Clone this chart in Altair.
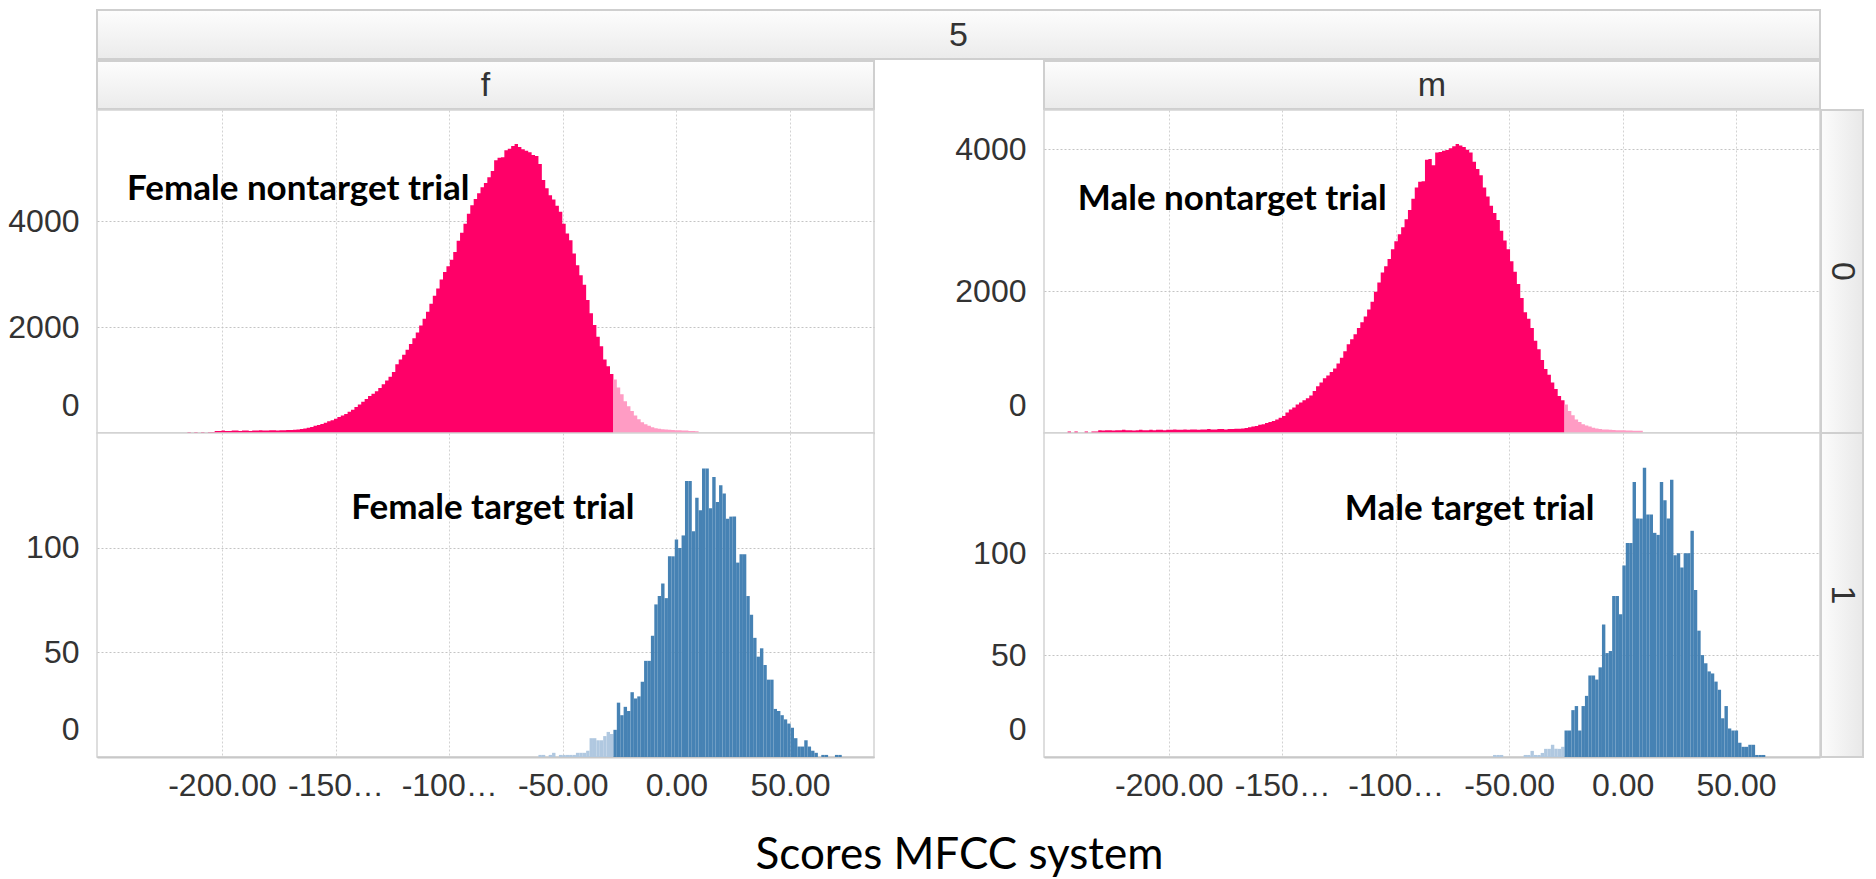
import altair as alt
import pandas as pd

# ---------------- data ----------------
BIN_WIDTH = 1.5
F_THRESHOLD = -27.7
M_THRESHOLD = -25.6

female_nontarget_below = (
    [20, 0, 20, 0, 20, 0, 20, 20]
    + [40, 40, 45, 40, 40, 45, 45, 40, 45, 45, 40, 45, 45, 50, 45, 45, 50, 50, 45, 50, 50, 55, 55]
    + [60, 65, 75, 85, 100, 115, 135, 150, 170, 195]
    + [220, 240, 270, 300, 330, 360, 400, 440, 490, 540,
       590, 640, 700, 740, 790, 850, 920, 990, 1060, 1150,
       1300, 1390, 1480, 1570, 1680, 1790, 1900, 2030, 2160, 2290,
       2440, 2590, 2730, 2900, 3040, 3150, 3270, 3420, 3630, 3780,
       3950, 4140, 4300, 4420, 4530, 4640, 4720, 4830, 4950, 5150,
       5200, 5210, 5340, 5370, 5420, 5460, 5400, 5360, 5330, 5300,
       5250, 5230, 5080, 4780, 4620, 4490, 4410, 4290, 4180, 3950,
       3770, 3640, 3390, 3170, 2980, 2800, 2510, 2260, 2040, 1820,
       1640, 1390, 1260, 1115]
)
female_nontarget_above = [1010, 860, 730, 600, 505, 415, 330, 260, 205, 165,
                          135, 110, 90, 80, 70, 65, 60, 55, 50, 50,
                          45, 45, 40, 40, 35]

male_nontarget_below = (
    [20, 0, 20, 0, 0, 20, 0, 20, 20]
    + [40, 35, 40, 40, 35, 40, 40, 45, 40, 40,
       35, 40, 45, 40, 40, 45, 40, 45, 45, 40,
       45, 45, 50, 45, 45, 50, 45, 50, 50, 45,
       50, 50, 55, 50, 50, 55, 55, 50, 55, 55,
       60]
    + [60, 65, 70, 80, 90, 100, 115, 125, 140, 155, 170, 190, 215]
    + [240, 290, 330, 360, 400, 430, 460, 490, 530, 590,
       660, 710, 770, 810, 860, 910, 980, 1060, 1150, 1250,
       1320, 1390, 1480, 1560, 1640, 1740, 1850, 1990, 2120, 2260,
       2350, 2450, 2590, 2700, 2800, 2900, 3010, 3140, 3300, 3460,
       3540, 3545, 3850, 3860, 3770, 3950, 3960, 3975, 3985, 4010,
       4040, 4070, 4050, 4030, 3990, 3950, 3820, 3720, 3630, 3460,
       3330, 3200, 3100, 3000, 2850, 2710, 2590, 2420, 2270, 2100,
       1900, 1700, 1610, 1480, 1300, 1180, 1030, 900, 820, 710,
       620, 520, 460]
)
male_nontarget_above = [400, 310, 250, 190, 155, 125, 105, 90, 75, 62,
                        55, 50, 48, 45, 42, 40, 40, 38, 36, 35,
                        33, 32, 30]

female_target_below = [1, 1, 0, 1, 2, 0, 1, 1, 1, 1, 1, 2, 2, 2, 3, 9, 9, 8, 8, 10, 12, 11]
female_target_above = [13, 26, 20, 24, 22, 31, 28, 29, 36, 46,
                       46, 58, 73, 77, 83, 76, 96, 96, 104, 100,
                       106, 132, 132, 108, 124, 118, 138, 138, 119, 134,
                       122, 130, 126, 114, 115, 115, 93, 97, 97, 77,
                       68, 57, 48, 52, 44, 37, 37, 23, 22, 20,
                       18, 16, 14, 9, 5, 5, 8, 5, 3, 2,
                       0, 1, 1, 0, 0, 1, 1]

male_target_below = [1, 1, 1, 0, 0, 0, 0, 0, 0, 1, 1, 3, 1, 1, 2, 4, 4, 6, 4, 4, 5]
male_target_above = [13, 13, 23, 25, 13, 25, 30, 40, 40, 38,
                     44, 65, 51, 52, 79, 79, 70, 94, 105, 105,
                     135, 117, 117, 142, 119, 119, 110, 109, 135, 126,
                     117, 136, 99, 100, 93, 100, 100, 111, 82, 62,
                     50, 46, 42, 41, 37, 33, 19, 25, 14, 13,
                     13, 7, 5, 5, 6, 6, 1, 1, 1]

SHADES = ["nontarget_rejected", "nontarget_accepted", "target_rejected", "target_accepted"]
SHADE_COLORS = ["#ff0068", "#ff9cc4", "#b0c8e0", "#4682b4"]

X_DOMAIN = [-255, 87]
X_TICKS = [-200, -150, -100, -50, 0, 50]
X_TICK_LABELS = ["-200.00", "-150\u2026", "-100\u2026", "-50.00", "0.00", "50.00"]
Y_TICKS_NONTARGET = [0, 2000, 4000]
Y_TICKS_TARGET = [0, 50, 100]
Y_MAX = {"f0": 6100, "m0": 4550, "f1": 155, "m1": 159}

ANN_LABELS = ["Female nontarget trial", "Male nontarget trial", "Female target trial", "Male target trial"]
ANN_X = [-241.8, -240.1, -143.1, -122.4]
ANN_Y = [4606, 3297, 118.9, 121.9]

TOP_HEADER = "5"
COL_HEADERS = ["f", "m"]
ROW_HEADERS = ["0", "1"]
X_TITLE = "Scores MFCC system"

AXIS_FONT = "Liberation Sans, Arial, sans-serif"
TEXT_COLOR = "#333333"

# ---------------- helpers ----------------
def bar_table(threshold, below, above, cat_below, cat_above):
    rows = []
    n = len(below)
    for i, c in enumerate(below):
        s = threshold - (n - i) * BIN_WIDTH
        rows.append(dict(start=s, end=s + BIN_WIDTH, count=c, zero=0, shade=cat_below))
    for i, c in enumerate(above):
        s = threshold + i * BIN_WIDTH
        rows.append(dict(start=s, end=s + BIN_WIDTH, count=c, zero=0, shade=cat_above))
    df = pd.DataFrame(rows)
    return df[df["count"] > 0]


def step_table(threshold, below, above, cat_below, cat_above):
    """Histogram outline as step points (bin start + closing edge) per colour group."""
    rows = []
    n = len(below)
    for i, c in enumerate(below):
        rows.append(dict(start=threshold - (n - i) * BIN_WIDTH, count=c, shade=cat_below))
    rows.append(dict(start=threshold, count=below[-1], shade=cat_below))
    for i, c in enumerate(above):
        rows.append(dict(start=threshold + i * BIN_WIDTH, count=c, shade=cat_above))
    rows.append(dict(start=threshold + len(above) * BIN_WIDTH, count=above[-1], shade=cat_above))
    return pd.DataFrame(rows)


label_expr = "''"
for v, lab in reversed(list(zip(X_TICKS, X_TICK_LABELS))):
    label_expr = f"datum.value === {v} ? '{lab}' : ({label_expr})"

color_scale = alt.Scale(domain=SHADES, range=SHADE_COLORS)

W_LEFT, W_GAP, W_RIGHT, W_STRIP = 777, 170, 776, 43
H_HDR, H_ROW0, H_ROW1 = 50, 323, 324


def panel(df, kind, ann_i, ymax, yticks, bottom, width, height):
    xs = alt.Scale(domain=X_DOMAIN, nice=False, zero=False)
    ys = alt.Scale(domain=[0, ymax], nice=False, zero=True)
    x_axis = alt.Axis(values=X_TICKS, labelExpr=label_expr, labels=bottom, ticks=False,
                      domain=True, domainColor="#c8c8c8", domainWidth=2,
                      grid=True, gridColor="#d2d2d2", gridDash=[2, 2], gridWidth=1,
                      title=None, labelFont=AXIS_FONT, labelFontSize=32,
                      labelColor=TEXT_COLOR, labelPadding=13, labelFlush=False,
                      labelOverlap=False)
    y_axis = alt.Axis(values=yticks, format="d", ticks=False, domain=False, grid=True,
                      gridColor="#c4c4c4", gridDash=[2, 2], gridWidth=1, title=None,
                      labelFont=AXIS_FONT, labelFontSize=32, labelColor=TEXT_COLOR,
                      labelPadding=18, labelOverlap=False,
                      labelOffset={"condition": {"test": "datum.value === 0", "value": -28}, "value": 0})
    if kind == "area":
        hist = alt.Chart(df).mark_area(interpolate="step-after").encode(
            x=alt.X("start:Q", scale=xs, axis=x_axis),
            y=alt.Y("count:Q", scale=ys, axis=y_axis, stack=False),
            color=alt.Color("shade:N", scale=color_scale, legend=None),
        )
    else:
        hist = alt.Chart(df).mark_rect().encode(
            x=alt.X("start:Q", scale=xs, axis=x_axis),
            x2="end:Q",
            y=alt.Y("count:Q", scale=ys, axis=y_axis),
            y2="zero:Q",
            color=alt.Color("shade:N", scale=color_scale, legend=None),
        )
    ann_df = pd.DataFrame({"start": [ANN_X[ann_i]], "count": [ANN_Y[ann_i]], "label": [ANN_LABELS[ann_i]]})
    text = alt.Chart(ann_df).mark_text(align="left", baseline="middle", font="Lato",
                                       fontWeight="bold", fontSize=35, color="black").encode(
        x=alt.X("start:Q", scale=xs, axis=x_axis),
        y=alt.Y("count:Q", scale=ys, axis=y_axis),
        text="label:N",
    )
    return alt.layer(hist, text).properties(
        width=width, height=height,
        view=alt.ViewBackground(stroke="#d3d3d3", strokeWidth=1.5, fill="white"))


def empty(w, h):
    return alt.Chart(pd.DataFrame({"v": [0]})).mark_point(opacity=0, size=1).encode(
        x=alt.value(w / 2), y=alt.value(h / 2)
    ).properties(width=w, height=h, view=alt.ViewBackground(stroke="transparent"))


HEADER_FILL = alt.LinearGradient(gradient="linear",
                                 stops=[alt.GradientStop(offset=0, color="#fdfdfd"),
                                        alt.GradientStop(offset=1, color="#ebebeb")],
                                 x1=0, x2=0, y1=0, y2=1)
ROW_FILL = alt.LinearGradient(gradient="linear",
                              stops=[alt.GradientStop(offset=0, color="#fcfcfc"),
                                     alt.GradientStop(offset=1, color="#e8e8e8")],
                              x1=0, x2=1, y1=0, y2=0)


def col_header(label, w, h, box_w, y0, y1, extra_left=False):
    df = pd.DataFrame({"label": [label]})
    box = alt.Chart(df).mark_rect(fill=HEADER_FILL, stroke="#cfcfcf", strokeWidth=2).encode(
        x=alt.value(0), x2=alt.value(box_w), y=alt.value(y0), y2=alt.value(y1))
    txt = alt.Chart(df).mark_text(font=AXIS_FONT, fontSize=34, color=TEXT_COLOR,
                                  align="center", baseline="middle").encode(
        x=alt.value(box_w / 2), y=alt.value((y0 + y1) / 2 + 1), text="label:N")
    layers = [box, txt]
    if extra_left:
        pad = alt.Chart(df).mark_rect(opacity=0).encode(
            x=alt.value(-96), x2=alt.value(0), y=alt.value(2), y2=alt.value(3))
        layers.append(pad)
    return alt.layer(*layers).properties(width=w, height=h,
                                         view=alt.ViewBackground(stroke="transparent"))


def row_header(label, h):
    df = pd.DataFrame({"label": [label]})
    box = alt.Chart(df).mark_rect(fill=ROW_FILL, stroke="#cfcfcf", strokeWidth=2).encode(
        x=alt.value(1), x2=alt.value(W_STRIP), y=alt.value(0), y2=alt.value(h))
    txt = alt.Chart(df).mark_text(font=AXIS_FONT, fontSize=34, color=TEXT_COLOR, angle=90,
                                  align="center", baseline="middle").encode(
        x=alt.value((W_STRIP + 1) / 2), y=alt.value(h / 2), text="label:N")
    return alt.layer(box, txt).properties(width=W_STRIP, height=h,
                                          view=alt.ViewBackground(stroke="transparent"))


title_cell = alt.Chart(pd.DataFrame({"v": [0.5]})).mark_point(opacity=0, size=1).encode(
    x=alt.X("v:Q", scale=alt.Scale(domain=[0, 1]),
            axis=alt.Axis(title=X_TITLE, labels=False, ticks=False, domain=False, grid=False,
                          titleFont="Lato", titleFontSize=44, titleFontWeight="normal",
                          titleColor="#000000", titlePadding=76, titleLimit=1000)),
    y=alt.value(H_ROW1 / 2),
).properties(width=W_GAP, height=H_ROW1, view=alt.ViewBackground(stroke="transparent"))

# ---------------- panels ----------------
df_f0 = step_table(F_THRESHOLD, female_nontarget_below, female_nontarget_above, SHADES[0], SHADES[1])
df_m0 = step_table(M_THRESHOLD, male_nontarget_below, male_nontarget_above, SHADES[0], SHADES[1])
df_f1 = bar_table(F_THRESHOLD, female_target_below, female_target_above, SHADES[2], SHADES[3])
df_m1 = bar_table(M_THRESHOLD, male_target_below, male_target_above, SHADES[2], SHADES[3])

p_f0 = panel(df_f0, "area", 0, Y_MAX["f0"], Y_TICKS_NONTARGET, False, W_LEFT, H_ROW0)
p_m0 = panel(df_m0, "area", 1, Y_MAX["m0"], Y_TICKS_NONTARGET, False, W_RIGHT, H_ROW0)
p_f1 = panel(df_f1, "rect", 2, Y_MAX["f1"], Y_TICKS_TARGET, True, W_LEFT, H_ROW1)
p_m1 = panel(df_m1, "rect", 3, Y_MAX["m1"], Y_TICKS_TARGET, True, W_RIGHT, H_ROW1)

top_hdr = col_header(TOP_HEADER, W_LEFT, H_HDR, W_LEFT + W_GAP + W_RIGHT, 0, 49, extra_left=True)
f_hdr = col_header(COL_HEADERS[0], W_LEFT, H_HDR, W_LEFT, 1, 49)
m_hdr = col_header(COL_HEADERS[1], W_RIGHT, H_HDR, W_RIGHT, 1, 49)

cells = [
    top_hdr, empty(W_GAP, H_HDR), empty(W_RIGHT, H_HDR), empty(W_STRIP, H_HDR),
    f_hdr, empty(W_GAP, H_HDR), m_hdr, empty(W_STRIP, H_HDR),
    p_f0, empty(W_GAP, H_ROW0), p_m0, row_header(ROW_HEADERS[0], H_ROW0),
    p_f1, title_cell, p_m1, row_header(ROW_HEADERS[1], H_ROW1),
]

chart = alt.concat(*cells, columns=4).properties(
    spacing=0, bounds="flush", align="each",
    padding={"left": 0, "top": 8, "right": 8, "bottom": 0},
    background="white",
)

chart.save("out.html", embed_options={"renderer": "svg", "actions": False})
